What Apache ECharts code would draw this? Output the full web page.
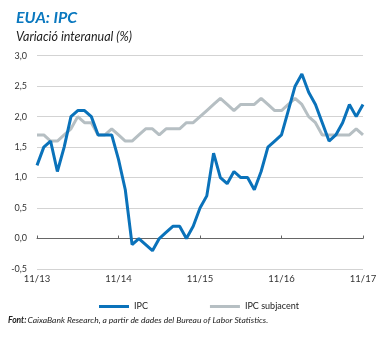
<!DOCTYPE html>
<html>
<head>
<meta charset="utf-8">
<script src="https://cdn.jsdelivr.net/npm/echarts@6/dist/echarts.min.js"></script>
<style>
html,body{margin:0;padding:0;background:#fff;}
#c{width:385px;height:338px;}
</style>
</head>
<body>
<div id="c"></div>
<script>
// Months Nov 2013 .. Nov 2017
const months = [];
(function(){
  let y = 13, m = 11;
  for (let i = 0; i < 49; i++) {
    months.push(String(m).padStart(2,'0') + '/' + y);
    m++; if (m > 12) { m = 1; y++; }
  }
})();
const ipc = [
  1.2, 1.5,
  1.6, 1.1, 1.5, 2.0, 2.1, 2.1, 2.0, 1.7, 1.7, 1.7, 1.3, 0.8,
  -0.1, 0.0, -0.1, -0.2, 0.0, 0.1, 0.2, 0.2, 0.0, 0.2, 0.5, 0.7,
  1.4, 1.0, 0.9, 1.1, 1.0, 1.0, 0.8, 1.1, 1.5, 1.6, 1.7, 2.1,
  2.5, 2.7, 2.4, 2.2, 1.9, 1.6, 1.7, 1.9, 2.2, 2.0, 2.2
];
const ipcSubjacent = [
  1.7, 1.7,
  1.6, 1.6, 1.7, 1.8, 2.0, 1.9, 1.9, 1.7, 1.7, 1.8, 1.7, 1.6,
  1.6, 1.7, 1.8, 1.8, 1.7, 1.8, 1.8, 1.8, 1.9, 1.9, 2.0, 2.1,
  2.2, 2.3, 2.2, 2.1, 2.2, 2.2, 2.2, 2.3, 2.2, 2.1, 2.1, 2.2,
  2.3, 2.2, 2.0, 1.9, 1.7, 1.7, 1.7, 1.7, 1.7, 1.8, 1.7
];
const seriesNames = ['IPC', 'IPC subjacent'];
const yTicks = [-0.5, 0, 0.5, 1, 1.5, 2, 2.5, 3];

const FONT = 'Lato';
const chart = echarts.init(document.getElementById('c'), null, {renderer:'canvas'});
chart.setOption({
  animation: false,
  backgroundColor: '#fff',
  title: [
    {text: 'EUA: IPC', left: 11, top: 5,
     textStyle: {fontFamily: FONT, fontSize: 16, fontWeight: 'bold', fontStyle: 'italic', color: '#0a78bf'}},
    {text: 'Variació interanual (%)', left: 11, top: 25,
     textStyle: {fontFamily: FONT, fontSize: 12.5, fontWeight: 'normal', fontStyle: 'italic', color: '#222'}}
  ],
  graphic: [
    {type: 'text', left: 8, top: 316,
     style: {rich: {b: {fontFamily: FONT, fontSize: 8.5, fontWeight: 'bold', fontStyle: 'italic', fill: '#222'},
                    n: {fontFamily: FONT, fontSize: 8.5, fontStyle: 'italic', fill: '#222'}},
             text: '{b|Font:}{n|\u2009CaixaBank Research, a partir de dades del Bureau of Labor Statistics.}'}}
  ],
  legend: {
    left: 94, top: 297,
    icon: 'rect', itemWidth: 30, itemHeight: 3, itemGap: 62,
    textStyle: {fontFamily: FONT, fontSize: 9, color: '#222'},
    data: seriesNames
  },
  grid: {left: 37, right: 22, top: 55.7, bottom: 69, containLabel: false},
  xAxis: [
    {type: 'category', data: months, boundaryGap: false, position: 'bottom',
     axisLine: {show: false, onZero: false}, axisTick: {show: false},
     axisLabel: {interval: 11, fontFamily: FONT, fontSize: 9.5, color: '#333', margin: 5,
                 formatter: v => v}},
    {type: 'category', data: months, boundaryGap: false, position: 'bottom',
     axisLine: {show: true, onZero: true, lineStyle: {color: '#666', width: 1}},
     axisTick: {show: true, inside: true, length: 3, interval: 11, lineStyle: {color: '#666'}},
     axisLabel: {show: false}, splitLine: {show: false}}
  ],
  yAxis: {
    type: 'value', min: -0.5, max: 3, interval: 0.5,
    axisLine: {show: false}, axisTick: {show: false},
    splitLine: {lineStyle: {color: '#d3d3d3', width: 1}},
    axisLabel: {fontFamily: FONT, fontSize: 9, color: '#333', margin: 10,
                formatter: v => v.toFixed(1).replace('.', ',')}
  },
  series: [
    {name: seriesNames[1], type: 'line', data: ipcSubjacent, showSymbol: false, symbol: 'none',
     lineStyle: {color: '#b6bfc3', width: 3}, itemStyle: {color: '#b6bfc3'}, z: 2},
    {name: seriesNames[0], type: 'line', data: ipc, showSymbol: false, symbol: 'none',
     lineStyle: {color: '#0a72ba', width: 3}, itemStyle: {color: '#0a72ba'}, z: 3}
  ]
});
</script>
</body>
</html>
